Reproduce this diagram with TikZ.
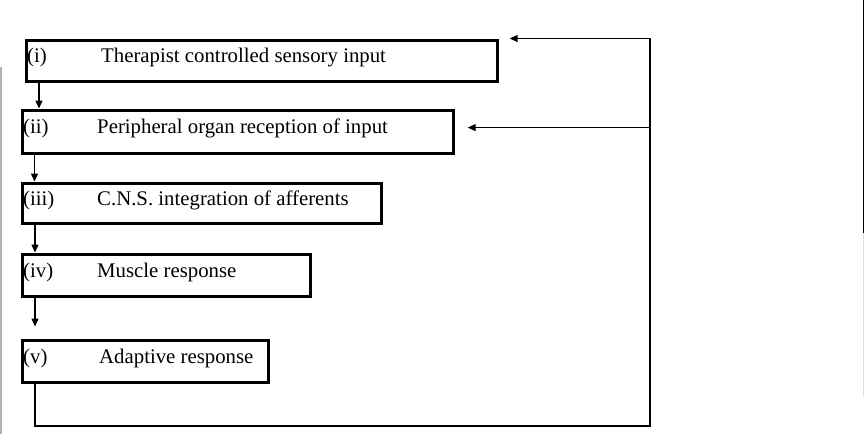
\documentclass[tikz,border=0pt]{standalone}
\usepackage{fontspec}
\setmainfont{Liberation Serif}
\usepackage{tikz}
\usetikzlibrary{arrows.meta, positioning}

\begin{document}
\begin{tikzpicture}[
  x=1pt, y=1pt,
  box/.style={rectangle, draw, line width=3.2pt, anchor=north west, inner sep=0pt},
  num/.style={anchor=base west, inner sep=0pt, font=\fontsize{20.8}{24}\selectfont},
  lbl/.style={anchor=base west, inner sep=0pt, font=\fontsize{20.8}{24}\selectfont},
  arrow/.style={-{Triangle[length=8pt, width=7pt]}, line width=1.3pt},
  edge/.style={gray!60, line width=1.5pt}
]
\useasboundingbox (0,0) rectangle (865,-434);

% Stages
\node[box, minimum width=471pt, minimum height=41pt] (therapist) at (24.5,-38.5) {};
\node[box, minimum width=431pt, minimum height=43pt] (receptor) at (20.5,-108.5) {};
\node[box, minimum width=359pt, minimum height=40pt] (cns) at (20.5,-181.5) {};
\node[box, minimum width=288pt, minimum height=42pt] (muscle) at (20.5,-252.5) {};
\node[box, minimum width=246pt, minimum height=42pt] (adaptive) at (20.5,-338.5) {};

% Stage texts
\node[num] (n1) at ([xshift=2.5pt, yshift=-2pt]therapist.west) {(i)};
\node[lbl] (t1) at ([xshift=76.5pt, yshift=-2pt]therapist.west) {Therapist controlled sensory input};
\node[num] (n2) at ([xshift=2.5pt, yshift=-2pt]receptor.west) {(ii)};
\node[lbl] (t2) at ([xshift=76.5pt, yshift=-2pt]receptor.west) {Peripheral organ reception of input};
\node[num] (n3) at ([xshift=2.5pt, yshift=-2pt]cns.west) {(iii)};
\node[lbl] (t3) at ([xshift=76.5pt, yshift=-2pt]cns.west) {C.N.S. integration of afferents};
\node[num] (n4) at ([xshift=2.5pt, yshift=-2pt]muscle.west) {(iv)};
\node[lbl] (t4) at ([xshift=76.5pt, yshift=-2pt]muscle.west) {Muscle response};
\node[num] (n5) at ([xshift=2.5pt, yshift=-2pt]adaptive.west) {(v)};
\node[lbl] (t5) at ([xshift=78.5pt, yshift=-2pt]adaptive.west) {Adaptive response};

% Feedback points
\coordinate (loop) at (650,-426);
\coordinate (in1) at ([xshift=11pt]therapist.north east);
\coordinate (in2) at ([xshift=13pt, yshift=4pt]receptor.east);

% Arrows
\draw[arrow] ([xshift=14.5pt]therapist.south west) -- ([xshift=14.5pt]therapist.south west |- receptor.north);
\draw[arrow] ([xshift=14pt]receptor.south west) -- ([xshift=14pt]receptor.south west |- cns.north);
\draw[arrow] ([xshift=14.5pt]cns.south west) -- ([xshift=14.5pt]cns.south west |- muscle.north);
\draw[arrow] ([xshift=14.5pt]muscle.south west) -- ([xshift=14.5pt, yshift=12pt]muscle.south west |- adaptive.north);
\draw[arrow] ([xshift=14.5pt]adaptive.south west) |- (loop) |- (in1);
\draw[arrow] (loop |- in2) -- (in2);

% Page edges
\draw[edge] (1,-67) -- (1,-434);
\draw[line width=1.5pt] (863.5,0) -- (863.5,-233);
\draw[gray!25, line width=1.2pt] (863.5,-233) -- (863.5,-397);

\end{tikzpicture}
\end{document}
